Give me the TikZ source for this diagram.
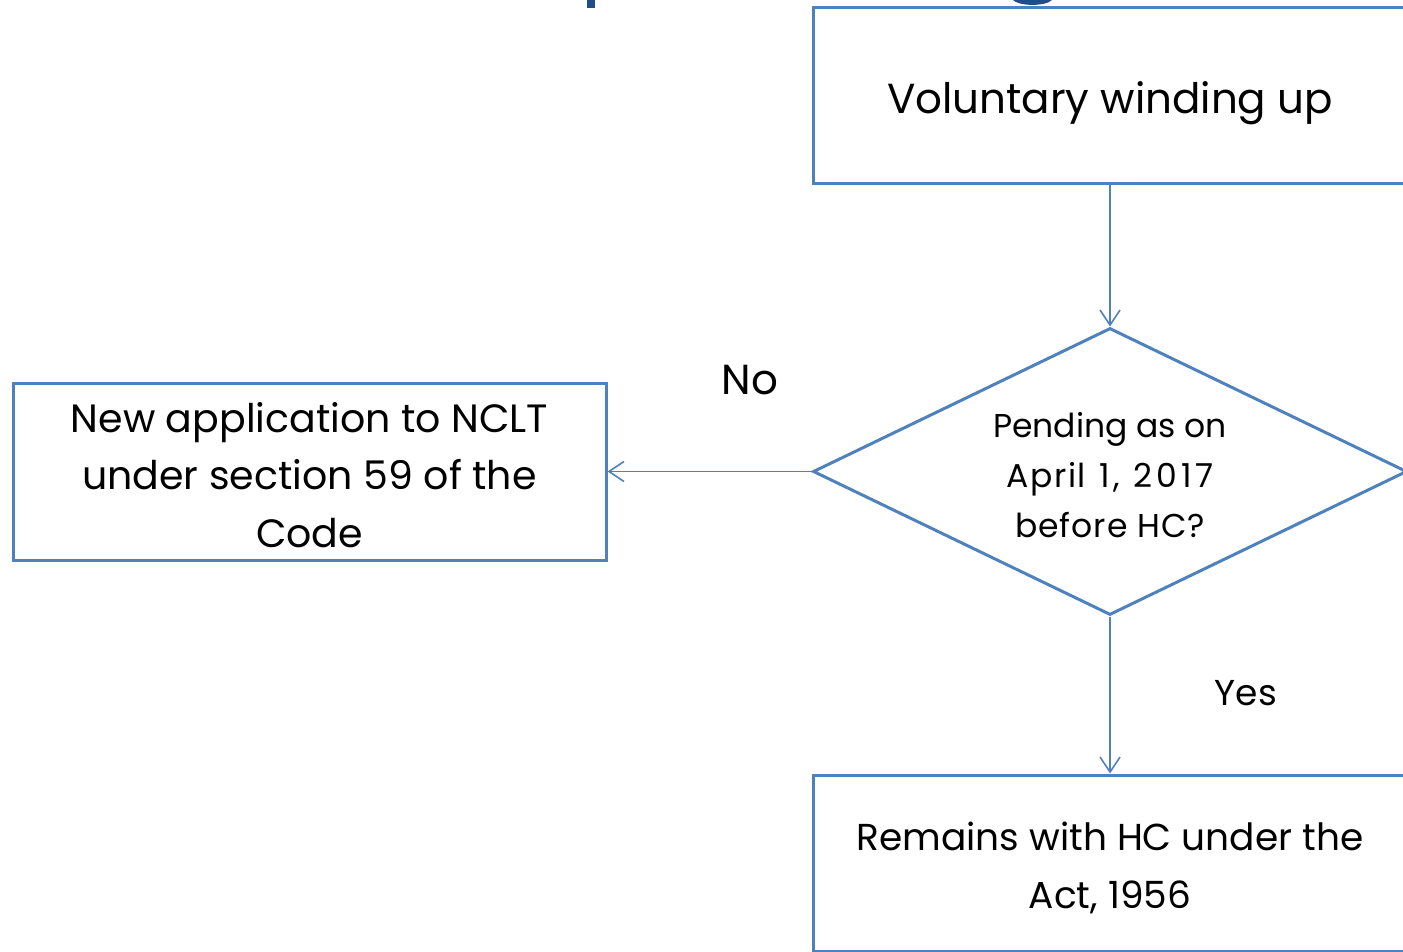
\documentclass[tikz,border=0pt]{standalone}
\usepackage{fontspec}
\setmainfont{Poppins}
\usetikzlibrary{shapes.geometric,arrows.meta}
\definecolor{boxblue}{HTML}{4F81BD}
\definecolor{titleblue}{HTML}{1F4E88}
\tikzset{
  stepbox/.style={draw=boxblue,line width=3pt,rectangle,inner sep=0pt},
  decision/.style={draw=boxblue,line width=3pt,diamond,inner sep=0pt},
  flow/.style={draw=boxblue,line width=1.6pt,-{Straight Barb[length=15pt,width=20pt,line width=1.6pt]}},
  txt/.style={align=center,text=black,inner sep=0pt},
}
\begin{document}
\begin{tikzpicture}[x=1pt,y=-1pt]
\useasboundingbox (0,0) rectangle (1403,952);
\clip (0,0) rectangle (1403,952);
% descenders of the heading above
\fill[titleblue] (587,0) rectangle (595,8);
\fill[titleblue] (1013,0) .. controls (1018,6) and (1045,7) .. (1052,0) -- cycle;
% boxes
\node[stepbox,minimum width=594pt,minimum height=176pt] (start) at (1110,96) {};
\node[txt,font=\fontsize{42}{58}\selectfont] (starttext) at (1110,103) {Voluntary winding up};
\node[decision,minimum width=594pt,minimum height=287pt] (ask) at (1110,471.5) {};
\node[txt,font=\fontsize{33}{50}\selectfont] (asktext) at (1110,475) {Pending as on\\{\addfontfeature{LetterSpace=5}April}\hspace{14pt}{\addfontfeature{LetterSpace=8}1,}\hspace{14pt}{\addfontfeature{LetterSpace=12}2017}\\{\addfontfeature{LetterSpace=3}before HC?}};
\node[stepbox,minimum width=593pt,minimum height=177pt] (nclt) at (309.5,471.5) {};
\node[txt,font=\fontsize{39.5}{57.5}\selectfont] (ncltext) at (309.5,475) {New application to NCLT\\under section 59 of the\\Code};
\node[stepbox,minimum width=594pt,minimum height=176pt] (hc) at (1110,863) {};
\node[txt,font=\fontsize{37.5}{58}\selectfont] (hctext) at (1110,868) {Remains with HC under the\\Act, 1956};
% connectors
\draw[flow] (start.south) -- (ask.north);
\draw[flow] (ask.west) -- (nclt.east);
\draw[flow] (ask.south) -- (hc.north);
\node[txt,font=\fontsize{42}{50}\selectfont] (no) at (750,380) {No};
\node[txt,font=\fontsize{36}{50}\selectfont] (yes) at (1246,693) {Yes};
\end{tikzpicture}
\end{document}
